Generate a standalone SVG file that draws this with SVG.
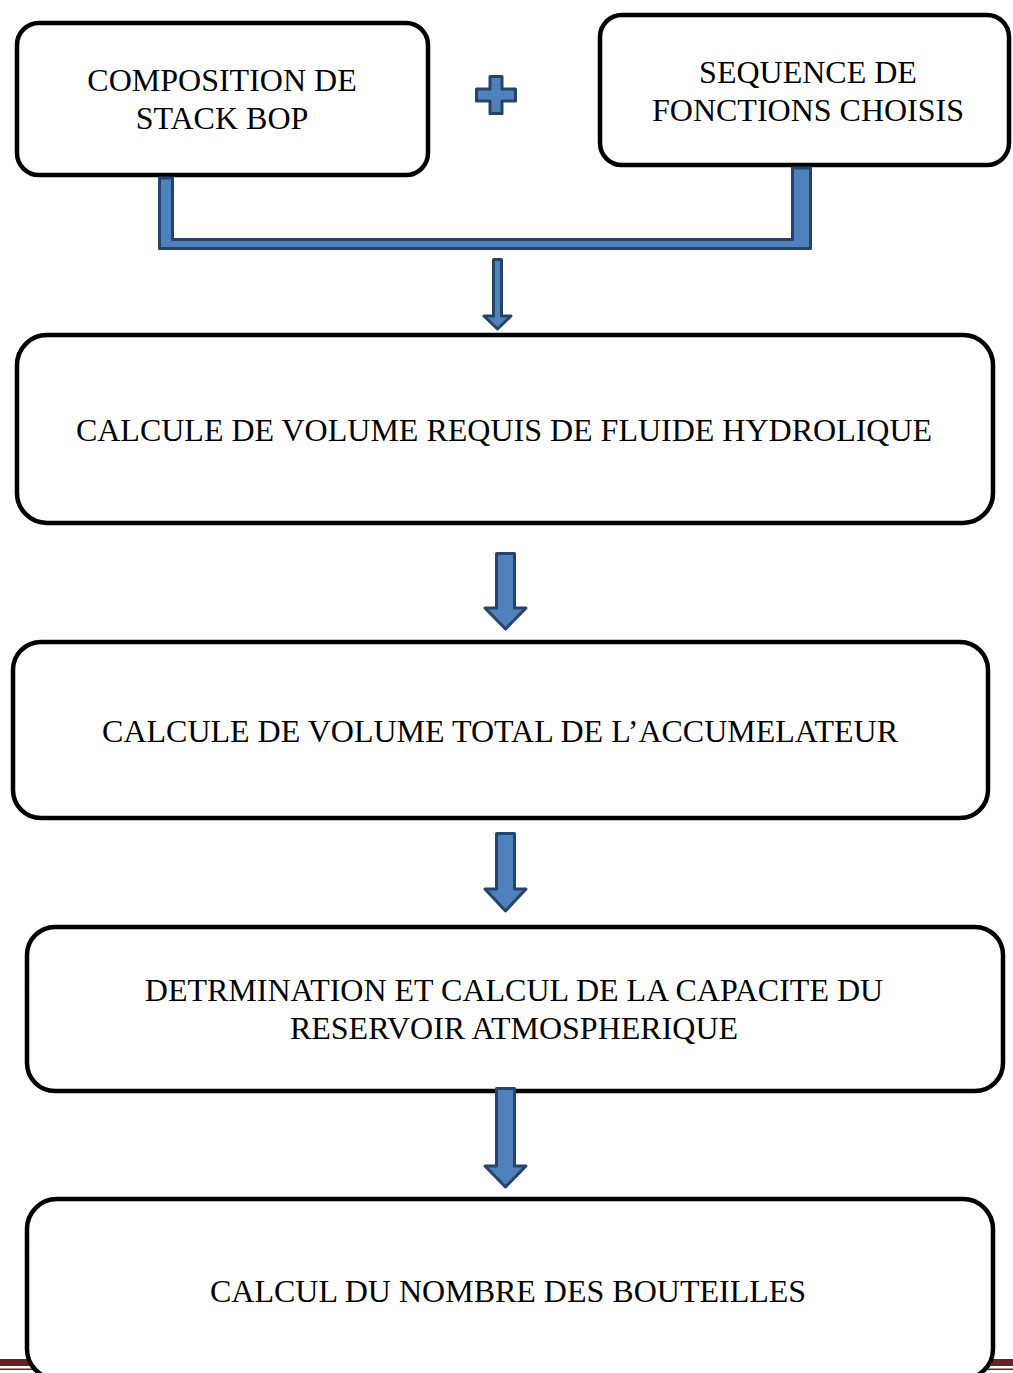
<svg xmlns="http://www.w3.org/2000/svg" width="1013" height="1373" viewBox="0 0 1013 1373">
<style>
.box{fill:#fff;stroke:#000;stroke-width:4.5}
.lbl{font-family:"Liberation Serif","Times New Roman",serif;font-size:32px;fill:#000;text-anchor:middle}
.blue{fill:#4f81bd;stroke:#264468;stroke-width:3;stroke-linejoin:round}
</style>
<rect width="1013" height="1373" fill="#fff"/>
<g id="footer">
<rect x="0" y="1359" width="1013" height="7" fill="#632423"/>
<rect x="0" y="1368.5" width="1013" height="1.5" fill="#632423"/>
</g>
<g id="n1"><rect class="box" x="17" y="23" width="411" height="152" rx="22"/>
<text class="lbl" x="222" y="91">COMPOSITION DE</text><text class="lbl" x="222" y="129">STACK BOP</text></g>
<g id="n2"><rect class="box" x="600" y="15" width="409" height="150" rx="22"/>
<text class="lbl" x="808" y="83">SEQUENCE DE</text><text class="lbl" x="808" y="121">FONCTIONS CHOISIS</text></g>
<g id="plus"><path class="blue" d="M490,76.5 H502 V89 H515.5 V101 H502 V113.5 H490 V101 H476.5 V89 H490 Z"/></g>
<g id="n3"><rect class="box" x="17" y="335" width="976" height="188" rx="30"/>
<text class="lbl" x="504" y="441">CALCULE DE VOLUME REQUIS DE FLUIDE HYDROLIQUE</text></g>
<g id="n4"><rect class="box" x="13" y="642" width="975" height="176" rx="28"/>
<text class="lbl" x="500" y="742">CALCULE DE VOLUME TOTAL DE L’ACCUMELATEUR</text></g>
<g id="n5"><rect class="box" x="27" y="927" width="976" height="164" rx="28"/>
<text class="lbl" x="514" y="1001">DETRMINATION ET CALCUL DE LA CAPACITE DU</text>
<text class="lbl" x="514" y="1039">RESERVOIR ATMOSPHERIQUE</text></g>
<g id="n6"><rect class="box" x="27" y="1199" width="966" height="180" rx="30"/>
<text class="lbl" x="508" y="1302">CALCUL DU NOMBRE DES BOUTEILLES</text></g>
<g id="connectors">
<path class="blue" d="M159.5,178 H172.5 V239.5 H792.5 V168 H810.5 V248.5 H159.5 Z"/>
<path class="blue" d="M493.5,259.5 H501.5 V316 H511 L497.5,329 L484,316 H493.5 Z"/>
<path class="blue" d="M496.5,553.5 H514.5 V608 H526 L505.5,629 L485,608 H496.5 Z"/>
<path class="blue" d="M496.5,833.5 H514.5 V889 H526 L505.5,911 L485,889 H496.5 Z"/>
<path class="blue" d="M496.5,1088.5 H514.5 V1166 H526 L505.5,1187 L485,1166 H496.5 Z"/>
</g>
</svg>
